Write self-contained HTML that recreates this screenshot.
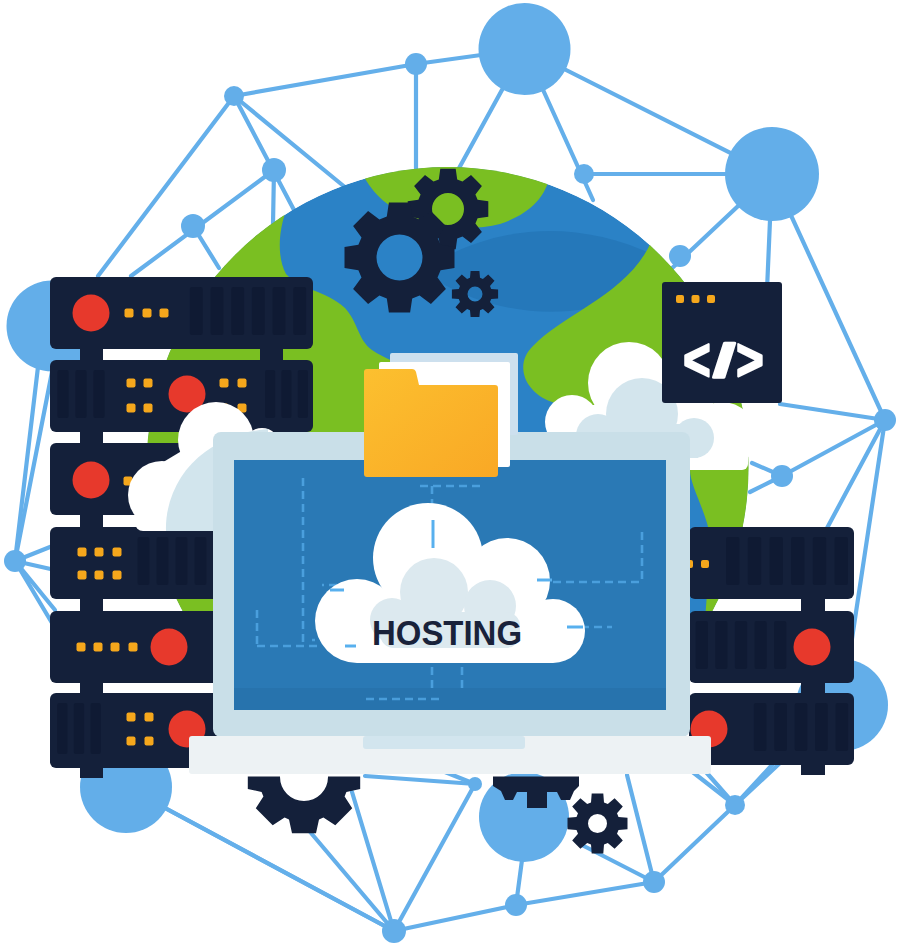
<!DOCTYPE html>
<html lang="en">
<head>
<meta charset="utf-8">
<title>Hosting illustration</title>
<style>
  html, body { margin: 0; padding: 0; background: #ffffff; }
  body { width: 900px; height: 945px; overflow: hidden; font-family: "Liberation Sans", sans-serif; }
  svg { display: block; }
</style>
</head>
<body>
<svg width="900" height="945" viewBox="0 0 900 945">
<rect width="900" height="945" fill="#ffffff"/>
<g id="network" stroke-linecap="round">
<line x1="234" y1="96" x2="416" y2="64" stroke="#64afea" stroke-width="4.2"/>
<line x1="416" y1="64" x2="524.5" y2="49" stroke="#64afea" stroke-width="4.2"/>
<line x1="416" y1="64" x2="416" y2="175" stroke="#64afea" stroke-width="4.2"/>
<line x1="234" y1="96" x2="98" y2="276" stroke="#64afea" stroke-width="4.2"/>
<line x1="234" y1="96" x2="294" y2="210" stroke="#64afea" stroke-width="4.2"/>
<line x1="234" y1="96" x2="346" y2="188" stroke="#64afea" stroke-width="4.2"/>
<line x1="274" y1="170" x2="131" y2="276" stroke="#64afea" stroke-width="4.2"/>
<line x1="274" y1="170" x2="273" y2="224" stroke="#64afea" stroke-width="4.2"/>
<line x1="193" y1="226" x2="219" y2="268" stroke="#64afea" stroke-width="4.2"/>
<line x1="524.5" y1="49" x2="772" y2="174" stroke="#64afea" stroke-width="4.2"/>
<line x1="524.5" y1="49" x2="593" y2="200" stroke="#64afea" stroke-width="4.2"/>
<line x1="524.5" y1="49" x2="458" y2="170" stroke="#64afea" stroke-width="4.2"/>
<line x1="584" y1="174" x2="772" y2="174" stroke="#64afea" stroke-width="4.2"/>
<line x1="772" y1="174" x2="668" y2="272" stroke="#64afea" stroke-width="4.2"/>
<line x1="772" y1="174" x2="767" y2="290" stroke="#64afea" stroke-width="4.2"/>
<line x1="772" y1="174" x2="885" y2="420" stroke="#64afea" stroke-width="4.2"/>
<line x1="885" y1="420" x2="780" y2="404" stroke="#64afea" stroke-width="4.2"/>
<line x1="885" y1="420" x2="782" y2="476" stroke="#64afea" stroke-width="4.2"/>
<line x1="782" y1="476" x2="752" y2="463" stroke="#64afea" stroke-width="4.2"/>
<line x1="782" y1="476" x2="750" y2="492" stroke="#64afea" stroke-width="4.2"/>
<line x1="885" y1="420" x2="826" y2="530" stroke="#64afea" stroke-width="4.2"/>
<line x1="885" y1="420" x2="842" y2="705" stroke="#64afea" stroke-width="4.2"/>
<line x1="15" y1="561" x2="40" y2="350" stroke="#64afea" stroke-width="4.2"/>
<line x1="15" y1="561" x2="52" y2="372" stroke="#64afea" stroke-width="4.2"/>
<line x1="15" y1="561" x2="55" y2="545" stroke="#64afea" stroke-width="4.2"/>
<line x1="15" y1="561" x2="55" y2="570" stroke="#64afea" stroke-width="4.2"/>
<line x1="15" y1="561" x2="55" y2="610" stroke="#64afea" stroke-width="4.2"/>
<line x1="15" y1="561" x2="55" y2="628" stroke="#64afea" stroke-width="4.2"/>
<line x1="394" y1="931" x2="150" y2="800" stroke="#64afea" stroke-width="4.2"/>
<line x1="394" y1="931" x2="300" y2="820" stroke="#64afea" stroke-width="4.2"/>
<line x1="394" y1="931" x2="352" y2="792" stroke="#64afea" stroke-width="4.2"/>
<line x1="394" y1="931" x2="475" y2="784" stroke="#64afea" stroke-width="4.2"/>
<line x1="394" y1="931" x2="516" y2="905" stroke="#64afea" stroke-width="4.2"/>
<line x1="516" y1="905" x2="654" y2="882" stroke="#64afea" stroke-width="4.2"/>
<line x1="516" y1="905" x2="522" y2="860" stroke="#64afea" stroke-width="4.2"/>
<line x1="475" y1="784" x2="365" y2="776" stroke="#64afea" stroke-width="4.2"/>
<line x1="475" y1="784" x2="440" y2="770" stroke="#64afea" stroke-width="4.2"/>
<line x1="654" y1="882" x2="578" y2="843" stroke="#64afea" stroke-width="4.2"/>
<line x1="654" y1="882" x2="627" y2="775" stroke="#64afea" stroke-width="4.2"/>
<line x1="654" y1="882" x2="735" y2="805" stroke="#64afea" stroke-width="4.2"/>
<line x1="735" y1="805" x2="772" y2="765" stroke="#64afea" stroke-width="4.2"/>
<line x1="735" y1="805" x2="706" y2="772" stroke="#64afea" stroke-width="4.2"/>
<line x1="735" y1="805" x2="690" y2="770" stroke="#64afea" stroke-width="4.2"/>
<line x1="126" y1="787" x2="394" y2="931" stroke="#64afea" stroke-width="4.2"/>
<line x1="842" y1="705" x2="735" y2="805" stroke="#64afea" stroke-width="4.2"/>
</g>
<circle cx="524.5" cy="49" r="46" fill="#63aee9"/>
<circle cx="772" cy="174" r="47" fill="#63aee9"/>
<circle cx="842" cy="705" r="46" fill="#63aee9"/>
<circle cx="126" cy="787" r="46" fill="#63aee9"/>
<circle cx="52" cy="326" r="45.5" fill="#63aee9"/>
<circle cx="524" cy="817" r="45" fill="#63aee9"/>
<circle cx="234" cy="96" r="10" fill="#63aee9"/>
<circle cx="416" cy="64" r="11" fill="#63aee9"/>
<circle cx="274" cy="170" r="12" fill="#63aee9"/>
<circle cx="193" cy="226" r="12" fill="#63aee9"/>
<circle cx="584" cy="174" r="10" fill="#63aee9"/>
<circle cx="680" cy="256" r="11" fill="#63aee9"/>
<circle cx="885" cy="420" r="11" fill="#63aee9"/>
<circle cx="782" cy="476" r="11" fill="#63aee9"/>
<circle cx="15" cy="561" r="11" fill="#63aee9"/>
<circle cx="394" cy="931" r="12" fill="#63aee9"/>
<circle cx="516" cy="905" r="11" fill="#63aee9"/>
<circle cx="654" cy="882" r="11" fill="#63aee9"/>
<circle cx="475" cy="784" r="7" fill="#63aee9"/>
<circle cx="735" cy="805" r="10" fill="#63aee9"/>
<clipPath id="gclip"><circle cx="447.5" cy="468" r="301"/></clipPath>
<g clip-path="url(#gclip)">
<circle cx="447.5" cy="468" r="301" fill="#2b82c6"/>
<path d="M436,262 C500,225 580,218 660,258 L620,300 C570,318 500,318 436,280 Z" fill="#2578ba"/>
<path d="M352,150 L550,150 C556,188 536,212 500,224 C470,232 430,228 404,214 C384,204 366,190 352,150 Z" fill="#7abf22"/>
<path d="M292,196 C278,225 276,255 286,274 C300,290 325,290 345,308 C358,322 358,340 372,350 C384,358 398,364 410,366 L410,470 L300,470 L230,640 L100,640 L100,200 Z" fill="#7abf22"/>
<path d="M656,228 C640,290 565,312 533,346 C514,364 524,392 552,402 L600,420 L690,470 C690,486 706,510 711,540 L705,620 L800,620 L800,230 Z" fill="#7abf22"/>
</g>
<path fill-rule="evenodd" fill="#14203a" d="M477.6,199.8 L488.3,201.3 L488.3,216.7 L477.6,218.2 L475.4,223.5 L481.9,232.0 L471.0,242.9 L462.5,236.4 L457.2,238.6 L455.7,249.3 L440.3,249.3 L438.8,238.6 L433.5,236.4 L425.0,242.9 L414.1,232.0 L420.6,223.5 L418.4,218.2 L407.7,216.7 L407.7,201.3 L418.4,199.8 L420.6,194.5 L414.1,186.0 L425.0,175.1 L433.5,181.6 L438.8,179.4 L440.3,168.7 L455.7,168.7 L457.2,179.4 L462.5,181.6 L471.0,175.1 L481.9,186.0 L475.4,194.5 Z M432.0,209.0 a16,16 0 1,0 32,0 a16,16 0 1,0 -32,0 Z"/>
<path fill-rule="evenodd" fill="#14203a" d="M440.6,244.8 L454.5,246.9 L454.5,268.1 L440.6,270.2 L437.5,277.6 L445.9,288.9 L430.9,303.9 L419.6,295.5 L412.2,298.6 L410.1,312.5 L388.9,312.5 L386.8,298.6 L379.4,295.5 L368.1,303.9 L353.1,288.9 L361.5,277.6 L358.4,270.2 L344.5,268.1 L344.5,246.9 L358.4,244.8 L361.5,237.4 L353.1,226.1 L368.1,211.1 L379.4,219.5 L386.8,216.4 L388.9,202.5 L410.1,202.5 L412.2,216.4 L419.6,219.5 L430.9,211.1 L445.9,226.1 L437.5,237.4 Z M376.5,257.5 a23,23 0 1,0 46,0 a23,23 0 1,0 -46,0 Z"/>
<path fill-rule="evenodd" fill="#14203a" d="M491.2,289.0 L498.1,289.6 L498.1,298.4 L491.2,299.0 L490.0,301.9 L494.5,307.2 L488.2,313.5 L482.9,309.0 L480.0,310.2 L479.4,317.1 L470.6,317.1 L470.0,310.2 L467.1,309.0 L461.8,313.5 L455.5,307.2 L460.0,301.9 L458.8,299.0 L451.9,298.4 L451.9,289.6 L458.8,289.0 L460.0,286.1 L455.5,280.8 L461.8,274.5 L467.1,279.0 L470.0,277.8 L470.6,270.9 L479.4,270.9 L480.0,277.8 L482.9,279.0 L488.2,274.5 L494.5,280.8 L490.0,286.1 Z M467.5,294.0 a7.5,7.5 0 1,0 15.0,0 a7.5,7.5 0 1,0 -15.0,0 Z"/>
<rect x="80" y="347" width="23" height="16" fill="#14203a"/>
<rect x="260" y="347" width="23" height="16" fill="#14203a"/>
<rect x="80" y="430" width="23" height="16" fill="#14203a"/>
<rect x="260" y="430" width="23" height="16" fill="#14203a"/>
<rect x="80" y="513" width="23" height="16" fill="#14203a"/>
<rect x="260" y="513" width="23" height="16" fill="#14203a"/>
<rect x="80" y="597" width="23" height="16" fill="#14203a"/>
<rect x="260" y="597" width="23" height="16" fill="#14203a"/>
<rect x="80" y="681" width="23" height="16" fill="#14203a"/>
<rect x="260" y="681" width="23" height="16" fill="#14203a"/>
<rect x="80" y="767" width="23" height="11" fill="#14203a"/>
<rect x="50" y="277" width="263" height="72" fill="#14203a" rx="6"/>
<rect x="50" y="360" width="263" height="72" fill="#14203a" rx="6"/>
<rect x="50" y="443" width="263" height="72" fill="#14203a" rx="6"/>
<rect x="50" y="527" width="263" height="72" fill="#14203a" rx="6"/>
<rect x="50" y="611" width="263" height="72" fill="#14203a" rx="6"/>
<rect x="50" y="693" width="263" height="75" fill="#14203a" rx="6"/>
<circle cx="91" cy="313" r="18.5" fill="#e7392c"/>
<rect x="124.5" y="308.5" width="9" height="9" fill="#f5a71c" rx="2"/>
<rect x="142.5" y="308.5" width="9" height="9" fill="#f5a71c" rx="2"/>
<rect x="159.5" y="308.5" width="9" height="9" fill="#f5a71c" rx="2"/>
<rect x="189.9" y="287" width="12.8" height="48" fill="#0f1a33" rx="2"/>
<rect x="210.6" y="287" width="12.8" height="48" fill="#0f1a33" rx="2"/>
<rect x="231.3" y="287" width="12.8" height="48" fill="#0f1a33" rx="2"/>
<rect x="251.9" y="287" width="12.8" height="48" fill="#0f1a33" rx="2"/>
<rect x="272.6" y="287" width="12.8" height="48" fill="#0f1a33" rx="2"/>
<rect x="293.3" y="287" width="12.8" height="48" fill="#0f1a33" rx="2"/>
<rect x="57.4" y="370" width="11.2" height="48" fill="#0f1a33" rx="2"/>
<rect x="75.4" y="370" width="11.2" height="48" fill="#0f1a33" rx="2"/>
<rect x="93.4" y="370" width="11.2" height="48" fill="#0f1a33" rx="2"/>
<rect x="126.5" y="378.5" width="9" height="9" fill="#f5a71c" rx="2"/>
<rect x="143.5" y="378.5" width="9" height="9" fill="#f5a71c" rx="2"/>
<rect x="126.5" y="403.5" width="9" height="9" fill="#f5a71c" rx="2"/>
<rect x="143.5" y="403.5" width="9" height="9" fill="#f5a71c" rx="2"/>
<circle cx="187" cy="394" r="18.5" fill="#e7392c"/>
<rect x="219.5" y="378.5" width="9" height="9" fill="#f5a71c" rx="2"/>
<rect x="237.5" y="378.5" width="9" height="9" fill="#f5a71c" rx="2"/>
<rect x="219.5" y="403.5" width="9" height="9" fill="#f5a71c" rx="2"/>
<rect x="237.5" y="403.5" width="9" height="9" fill="#f5a71c" rx="2"/>
<rect x="265.1" y="370" width="10.1" height="48" fill="#0f1a33" rx="2"/>
<rect x="281.4" y="370" width="10.1" height="48" fill="#0f1a33" rx="2"/>
<rect x="297.8" y="370" width="10.1" height="48" fill="#0f1a33" rx="2"/>
<circle cx="91" cy="480" r="18.5" fill="#e7392c"/>
<rect x="123.5" y="476.5" width="9" height="9" fill="#f5a71c" rx="2"/>
<rect x="141.5" y="476.5" width="9" height="9" fill="#f5a71c" rx="2"/>
<rect x="158.5" y="476.5" width="9" height="9" fill="#f5a71c" rx="2"/>
<rect x="77.5" y="547.5" width="9" height="9" fill="#f5a71c" rx="2"/>
<rect x="94.5" y="547.5" width="9" height="9" fill="#f5a71c" rx="2"/>
<rect x="112.5" y="547.5" width="9" height="9" fill="#f5a71c" rx="2"/>
<rect x="77.5" y="570.5" width="9" height="9" fill="#f5a71c" rx="2"/>
<rect x="94.5" y="570.5" width="9" height="9" fill="#f5a71c" rx="2"/>
<rect x="112.5" y="570.5" width="9" height="9" fill="#f5a71c" rx="2"/>
<rect x="137.6" y="537" width="11.8" height="48" fill="#0f1a33" rx="2"/>
<rect x="156.6" y="537" width="11.8" height="48" fill="#0f1a33" rx="2"/>
<rect x="175.6" y="537" width="11.8" height="48" fill="#0f1a33" rx="2"/>
<rect x="194.6" y="537" width="11.8" height="48" fill="#0f1a33" rx="2"/>
<rect x="76.5" y="642.5" width="9" height="9" fill="#f5a71c" rx="2"/>
<rect x="93.5" y="642.5" width="9" height="9" fill="#f5a71c" rx="2"/>
<rect x="110.5" y="642.5" width="9" height="9" fill="#f5a71c" rx="2"/>
<rect x="128.5" y="642.5" width="9" height="9" fill="#f5a71c" rx="2"/>
<circle cx="169" cy="647" r="18.5" fill="#e7392c"/>
<rect x="57.2" y="703" width="10.3" height="51" fill="#0f1a33" rx="2"/>
<rect x="73.8" y="703" width="10.3" height="51" fill="#0f1a33" rx="2"/>
<rect x="90.5" y="703" width="10.3" height="51" fill="#0f1a33" rx="2"/>
<rect x="126.5" y="712.5" width="9" height="9" fill="#f5a71c" rx="2"/>
<rect x="144.5" y="712.5" width="9" height="9" fill="#f5a71c" rx="2"/>
<rect x="126.5" y="736.5" width="9" height="9" fill="#f5a71c" rx="2"/>
<rect x="144.5" y="736.5" width="9" height="9" fill="#f5a71c" rx="2"/>
<circle cx="187" cy="729" r="18.5" fill="#e7392c"/>
<rect x="801" y="597" width="24" height="16" fill="#14203a"/>
<rect x="801" y="681" width="24" height="16" fill="#14203a"/>
<rect x="801" y="763" width="24" height="12" fill="#14203a"/>
<rect x="689" y="527" width="165" height="72" fill="#14203a" rx="6"/>
<rect x="689" y="611" width="165" height="72" fill="#14203a" rx="6"/>
<rect x="689" y="693" width="165" height="72" fill="#14203a" rx="6"/>
<rect x="685.0" y="560.0" width="8" height="8" fill="#f5a71c" rx="2"/>
<rect x="701.0" y="560.0" width="8" height="8" fill="#f5a71c" rx="2"/>
<rect x="726.1" y="537" width="13.4" height="48" fill="#0f1a33" rx="2"/>
<rect x="747.8" y="537" width="13.4" height="48" fill="#0f1a33" rx="2"/>
<rect x="769.5" y="537" width="13.4" height="48" fill="#0f1a33" rx="2"/>
<rect x="791.1" y="537" width="13.4" height="48" fill="#0f1a33" rx="2"/>
<rect x="812.8" y="537" width="13.4" height="48" fill="#0f1a33" rx="2"/>
<rect x="834.5" y="537" width="13.4" height="48" fill="#0f1a33" rx="2"/>
<rect x="695.7" y="621" width="12.2" height="48" fill="#0f1a33" rx="2"/>
<rect x="715.3" y="621" width="12.2" height="48" fill="#0f1a33" rx="2"/>
<rect x="734.9" y="621" width="12.2" height="48" fill="#0f1a33" rx="2"/>
<rect x="754.5" y="621" width="12.2" height="48" fill="#0f1a33" rx="2"/>
<rect x="774.1" y="621" width="12.2" height="48" fill="#0f1a33" rx="2"/>
<circle cx="812" cy="647" r="18.5" fill="#e7392c"/>
<circle cx="709" cy="729" r="18.5" fill="#e7392c"/>
<rect x="753.9" y="703" width="12.6" height="48" fill="#0f1a33" rx="2"/>
<rect x="774.3" y="703" width="12.6" height="48" fill="#0f1a33" rx="2"/>
<rect x="794.7" y="703" width="12.6" height="48" fill="#0f1a33" rx="2"/>
<rect x="815.1" y="703" width="12.6" height="48" fill="#0f1a33" rx="2"/>
<rect x="835.5" y="703" width="12.6" height="48" fill="#0f1a33" rx="2"/>
<circle cx="629" cy="383" r="41" fill="#ffffff"/>
<circle cx="572" cy="422" r="27" fill="#ffffff"/>
<circle cx="722" cy="436" r="34" fill="#ffffff"/>
<rect x="560" y="405" width="165" height="65" fill="#ffffff" rx="6"/>
<rect x="700" y="425" width="48" height="45" fill="#ffffff" rx="6"/>
<circle cx="680" cy="410" r="34" fill="#ffffff"/>
<circle cx="642" cy="414" r="36" fill="#d3e5ed"/>
<circle cx="598" cy="436" r="22" fill="#d3e5ed"/>
<rect x="598" y="424" width="100" height="34" fill="#d3e5ed"/>
<circle cx="694" cy="438" r="20" fill="#d3e5ed"/>
<circle cx="216" cy="440" r="38" fill="#ffffff"/>
<circle cx="162" cy="495" r="34" fill="#ffffff"/>
<circle cx="262" cy="446" r="18" fill="#ffffff"/>
<path d="M150,470 L200,440 H280 V531 H150 Z" fill="#ffffff"/>
<rect x="135" y="505" width="140" height="26" fill="#ffffff" rx="8"/>
<path d="M166,531 C165,500 180,470 205,452 C225,438 245,431 268,429 L268,531 Z" fill="#d2e5ed"/>
<rect x="662" y="282" width="120" height="121" fill="#14203a" rx="3"/>
<rect x="676.0" y="295.0" width="8" height="8" fill="#f5a71c" rx="2"/>
<rect x="691.5" y="295.0" width="8" height="8" fill="#f5a71c" rx="2"/>
<rect x="707.0" y="295.0" width="8" height="8" fill="#f5a71c" rx="2"/>
<text transform="translate(697,360) scale(0.78,1)" x="0" y="20" text-anchor="middle" font-family="'Liberation Sans', sans-serif" font-weight="700" font-size="60" fill="#ffffff" stroke="#ffffff" stroke-width="2.4" stroke-linejoin="round">&lt;</text>
<text transform="translate(724,360) scale(1.7,1)" x="0" y="16.5" text-anchor="middle" font-family="'Liberation Sans', sans-serif" font-weight="700" font-size="46" fill="#ffffff" stroke="#ffffff" stroke-width="2.4" stroke-linejoin="round">/</text>
<text transform="translate(750,360) scale(0.78,1)" x="0" y="20" text-anchor="middle" font-family="'Liberation Sans', sans-serif" font-weight="700" font-size="60" fill="#ffffff" stroke="#ffffff" stroke-width="2.4" stroke-linejoin="round">&gt;</text>
<rect x="213" y="432" width="477" height="305" fill="#c9dfe8" rx="8"/>
<rect x="234" y="460" width="432" height="250" fill="#2a79b5"/>
<rect x="234" y="688" width="432" height="22" fill="#2773ad"/>
<g stroke="#58b0ee" stroke-width="2.6" stroke-dasharray="8 5" fill="none" opacity="0.7">
<path d="M303,478 V646"/>
<path d="M257,610 V646"/>
<path d="M257,646 H322"/>
<path d="M420,486 H482"/>
<path d="M432,486 V540"/>
<path d="M540,582 H642"/>
<path d="M642,532 V582"/>
<path d="M568,627 H612"/>
<path d="M432,667 V690"/>
<path d="M462,667 V690"/>
<path d="M366,699 H440"/>
<path d="M350,585 H322"/>
<path d="M328,640 H312"/>
</g>
<rect x="390" y="353" width="128" height="82" fill="#cde0ee" rx="2"/>
<rect x="379" y="362" width="131" height="105" fill="#ffffff" rx="2"/>
<linearGradient id="fg" x1="0" y1="0" x2="1" y2="1"><stop offset="0" stop-color="#fcc02f"/><stop offset="1" stop-color="#f9a825"/></linearGradient>
<path d="M364,372 q0,-3 3,-3 h45 q3,0 4,3 l3,13 h76 q3,0 3,3 v86 q0,3 -3,3 h-128 q-3,0 -3,-3 Z" fill="url(#fg)"/>
<g fill="#ffffff">
<circle cx="428" cy="558" r="55" fill="#ffffff"/>
<circle cx="507" cy="581" r="43" fill="#ffffff"/>
<circle cx="553" cy="631" r="32" fill="#ffffff"/>
<circle cx="357" cy="621" r="42" fill="#ffffff"/>
<rect x="357" y="600" width="196" height="63" fill="#ffffff"/>
</g>
<circle cx="434" cy="592" r="34" fill="#dce9ef"/>
<circle cx="490" cy="606" r="26" fill="#dce9ef"/>
<circle cx="392" cy="620" r="22" fill="#dce9ef"/>
<rect x="380" y="612" width="140" height="36" fill="#dce9ef" rx="14"/>
<text x="372" y="645" font-family="'Liberation Sans', sans-serif" font-weight="700" font-size="34.5" fill="#19223a" textLength="150" lengthAdjust="spacingAndGlyphs">HOSTING</text>
<g stroke="#58b0ee" stroke-width="3" fill="none"><path d="M433,520 V548"/><path d="M330,590 H344"/><path d="M537,580 H552"/><path d="M567,627 H583"/><path d="M345,646 H356"/></g>
<rect x="189" y="736" width="522" height="38" fill="#edf2f4" rx="3"/>
<rect x="363" y="736" width="162" height="13" fill="#d2e5ee" rx="3"/>
<clipPath id="below"><rect x="0" y="776.5" width="900" height="200"/></clipPath>
<g clip-path="url(#below)" fill="#14203a" fill-rule="evenodd">
<path d="M346.4,762.0 L360.2,765.0 L360.2,789.0 L346.4,792.0 L344.6,796.4 L352.2,808.3 L335.3,825.2 L323.4,817.6 L319.0,819.4 L316.0,833.2 L292.0,833.2 L289.0,819.4 L284.6,817.6 L272.7,825.2 L255.8,808.3 L263.4,796.4 L261.6,792.0 L247.8,789.0 L247.8,765.0 L261.6,762.0 L263.4,757.6 L255.8,745.7 L272.7,728.8 L284.6,736.4 L289.0,734.6 L292.0,720.8 L316.0,720.8 L319.0,734.6 L323.4,736.4 L335.3,728.8 L352.2,745.7 L344.6,757.6 Z M280.0,777.0 a24,24 0 1,0 48,0 a24,24 0 1,0 -48,0 Z"/>
</g>
<path fill="#14203a" d="M493,776.5 H579 V786 L574,791 L570,800 H561 L557,792 H547 V808 H527 V792 H517 L513,800 H505 L501,791 L493,786 Z"/>
<path fill-rule="evenodd" fill="#14203a" d="M618.5,817.0 L627.5,817.7 L627.5,829.3 L618.5,830.0 L617.0,833.8 L622.8,840.6 L614.6,848.8 L607.8,843.0 L604.0,844.5 L603.3,853.5 L591.7,853.5 L591.0,844.5 L587.2,843.0 L580.4,848.8 L572.2,840.6 L578.0,833.8 L576.5,830.0 L567.5,829.3 L567.5,817.7 L576.5,817.0 L578.0,813.2 L572.2,806.4 L580.4,798.2 L587.2,804.0 L591.0,802.5 L591.7,793.5 L603.3,793.5 L604.0,802.5 L607.8,804.0 L614.6,798.2 L622.8,806.4 L617.0,813.2 Z M588.0,823.5 a9.5,9.5 0 1,0 19.0,0 a9.5,9.5 0 1,0 -19.0,0 Z"/>
</svg>
</body>
</html>
